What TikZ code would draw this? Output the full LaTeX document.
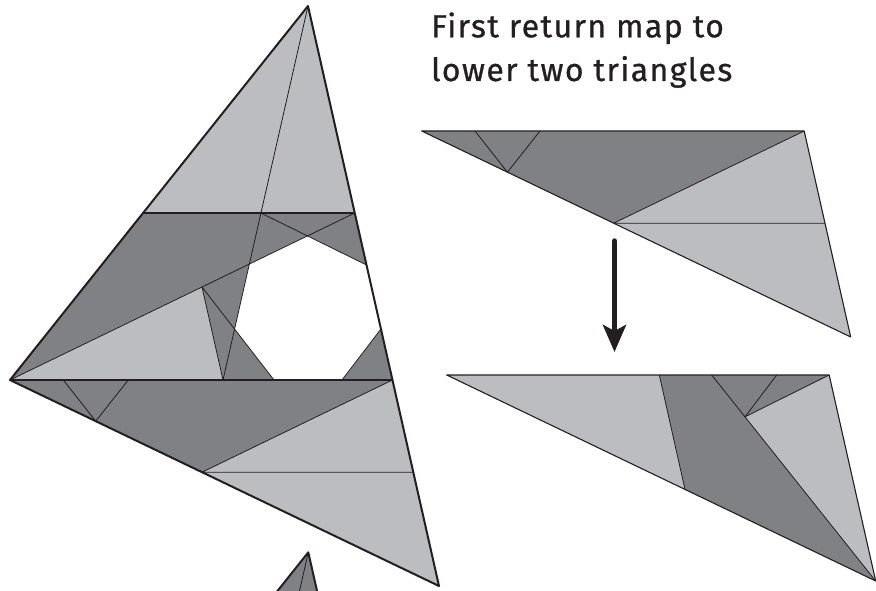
\documentclass[tikz,border=0pt]{standalone}
\usepackage{fontspec}
\setmainfont{Fira Sans}
\newfontfamily\titlefont{Fira Sans}[LetterSpace=4.5,FakeBold=0.8]
\usetikzlibrary{arrows.meta}
\definecolor{darkg}{RGB}{128,129,133}
\definecolor{lightg}{RGB}{188,189,192}
\definecolor{ink}{RGB}{35,31,32}
\tikzset{
  inner/.style={draw=ink, line width=0.8pt, line join=round},
  edgeline/.style={draw=ink, line width=2pt, line join=round},
  tedge/.style={draw=ink, line width=1.1pt, line join=round},
  band/.style={draw=ink, line width=1.3pt},
  label/.style={anchor=base west, inner sep=0pt, text=ink, font=\titlefont\fontsize{32}{38}\selectfont},
}
\newcommand{\lowerpart}{%
  \coordinate (L) at (10,380);
  \coordinate (K) at (392.47,380);
  \coordinate (B) at (439,586);
  \coordinate (C) at (202,472.2);
  \coordinate (D) at (413.3,472.2);
  \coordinate (S1) at (63.3,380);
  \coordinate (S2) at (128.3,380);
  \coordinate (S3) at (95.7,421.2);
  \fill[darkg] (L) -- (K) -- (C) -- cycle;
  \fill[lightg] (K) -- (C) -- (B) -- cycle;
  \draw[inner] (S1) -- (S3) -- (S2);
  \draw[inner] (K) -- (C) -- (D);
}
\begin{document}
\begin{tikzpicture}[x=1pt,y=-1pt]
\useasboundingbox (0,0) rectangle (876,591);
\fill[white] (0,0) rectangle (876,591);
% ---------------- main triangle ----------------
\coordinate (A) at (308,6);
\coordinate (L) at (10,380);
\coordinate (B) at (439,586);
\coordinate (E1) at (143.06,213);
\coordinate (E2) at (354.75,213);
\coordinate (M) at (260.95,213);
\coordinate (Q) at (223,380);
\coordinate (G) at (366.5,265);
\coordinate (H1) at (307.45,235.9);
\coordinate (H3) at (380.95,329);
\coordinate (H4) at (342,380);
\coordinate (H5) at (274,380);
\coordinate (H6) at (234.58,329.07);
\coordinate (H7) at (249.35,264.05);
\coordinate (P) at (202,287);
\coordinate (K) at (392.47,380);
\fill[darkg] (A) -- (L) -- (B) -- cycle;
\fill[lightg] (A) -- (E1) -- (E2) -- cycle;
\fill[lightg] (L) -- (P) -- (Q) -- cycle;
\fill[white] (H1) -- (G) -- (H3) -- (H4) -- (H5) -- (H6) -- (H7) -- cycle;
\begin{scope}[name prefix=m-]
  \lowerpart
\end{scope}
\draw[inner] (A) -- (Q);
\draw[inner] (E2) -- (L);
\draw[inner] (M) -- (G);
\draw[inner] (P) -- (Q);
\draw[inner] (P) -- (H5);
\draw[inner] (H3) -- (H4);
\draw[band] (E1) -- (E2);
\draw[band] (L) -- (K);
\draw[edgeline] (A) -- (L) -- (B) -- cycle;
% ---------------- copy cut by the lower border ----------------
\begin{scope}
  \clip (0,0) rectangle (876,591);
  \begin{scope}[shift={(0.3,546.3)}, name prefix=bc-]
    \coordinate (A) at (308,6);
    \coordinate (L) at (10,380);
    \coordinate (B) at (439,586);
    \coordinate (Q) at (223,380);
    \fill[darkg] (A) -- (L) -- (B) -- cycle;
    \draw[inner] (A) -- (Q);
    \draw[edgeline] (L) -- (A) -- (B);
  \end{scope}
\end{scope}
% ---------------- upper right triangle ----------------
\begin{scope}[shift={(411.7,-249)}, name prefix=ta-]
  \lowerpart
  \draw[tedge] (L) -- (K) -- (B) -- cycle;
\end{scope}
% ---------------- lower right triangle ----------------
\begin{scope}[shift={(436.7,-5)}, name prefix=tb-]
  \coordinate (L) at (10,380);
  \coordinate (K) at (392.47,380);
  \coordinate (B) at (439,586);
  \coordinate (Q) at (222.6,380);
  \coordinate (N) at (248.3,494.4);
  \coordinate (U1) at (275,380);
  \coordinate (U2) at (340,380);
  \coordinate (V) at (308.3,421.8);
  \fill[lightg] (L) -- (K) -- (B) -- cycle;
  \fill[darkg] (Q) -- (K) -- (V) -- (B) -- (N) -- cycle;
  \draw[inner] (Q) -- (N);
  \draw[inner] (U1) -- (B);
  \draw[inner] (U2) -- (V);
  \draw[inner] (K) -- (V);
  \draw[tedge] (L) -- (K) -- (B) -- cycle;
\end{scope}
% ---------------- arrow ----------------
\coordinate (ar1) at (614.5,241);
\coordinate (ar2) at (614.5,352);
\draw[ink, line width=5.5pt, line cap=round, -{Stealth[length=27pt,width=23pt,inset=6pt]}] (ar1) -- (ar2);
% ---------------- title ----------------
\node[label] (t1) at (431,37.3) {First return map to};
\node[label] (t2) at (431,81) {lower two triangles};
\end{tikzpicture}
\end{document}
